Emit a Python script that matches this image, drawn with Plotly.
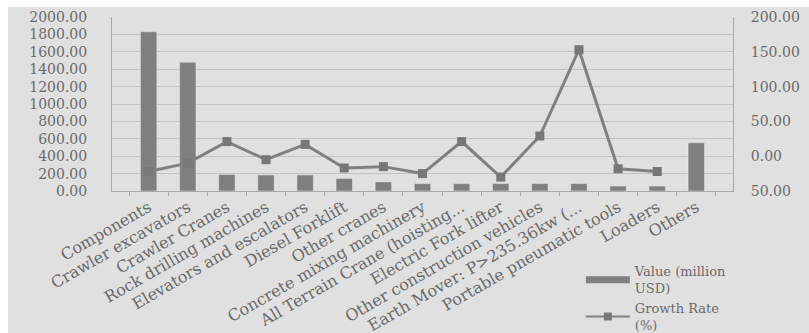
import plotly.graph_objects as go

categories = [
    "Components", "Crawler excavators", "Crawler Cranes", "Rock drilling machines",
    "Elevators and escalators", "Diesel Forklift", "Other cranes",
    "Concrete mixing machinery", "All Terrain Crane (hoisting...",
    "Electric Fork lifter", "Other construction vehicles",
    "Earth Mover: P>235.36kw (...", "Portable pneumatic tools", "Loaders", "Others",
]
value_musd = [1830, 1480, 190, 185, 185, 145, 105, 85, 85, 85, 85, 85, 57, 57, 555]
growth_pct = [-22, -10, 21, -5, 17, -17, -15, -25, 21, -30, 29, 153, -18, -22, None]

left_ticks = [0, 200, 400, 600, 800, 1000, 1200, 1400, 1600, 1800, 2000]
right_ticks = [-50, 0, 50, 100, 150, 200]
right_ticktext = ["50.00", "0.00", "50.00", "100.00", "150.00", "200.00"]

BG = "#e0e0e0"
BAR = "#7f7f7f"
LINE = "#808080"
TXT = "#6a6a6a"
GRID = "#c2c2c2"
FONT = "DejaVu Serif"

fig = go.Figure()
fig.add_trace(go.Bar(x=categories, y=value_musd, marker_color=BAR, width=0.42,
                     showlegend=False, yaxis="y"))
fig.add_trace(go.Scatter(x=categories, y=growth_pct, mode="lines+markers",
                         line=dict(color=LINE, width=3),
                         marker=dict(symbol="square", size=9, color="#777777"),
                         showlegend=False, yaxis="y2"))
# legend entries
fig.add_trace(go.Scatter(x=[None], y=[None], mode="lines", name="Value (million<br>USD)",
                         line=dict(color=BAR, width=7)))
fig.add_trace(go.Scatter(x=[None], y=[None], mode="lines+markers", name="Growth Rate<br>(%)",
                         line=dict(color=LINE, width=2),
                         marker=dict(symbol="square", size=8, color="#777777")))

# plot area: x 112..733 px, y 17..191 px
fig.update_layout(
    width=809, height=333,
    margin=dict(l=112, r=76, t=17, b=142, autoexpand=False),
    paper_bgcolor=BG, plot_bgcolor=BG,
    font=dict(family=FONT, color=TXT, size=14),
    xaxis=dict(
        tickangle=-30, tickfont=dict(size=16, family=FONT, color=TXT),
        showgrid=False, showline=True, linecolor="#a8a8a8", linewidth=1,
        ticks="outside", tickson="boundaries", ticklen=4, tickcolor="#a8a8a8",
        automargin=False,
    ),
    yaxis=dict(
        range=[0, 2000], tickvals=left_ticks, tickformat=".2f",
        showgrid=True, gridcolor=GRID, gridwidth=1,
        showline=True, linecolor="#a8a8a8", zeroline=False,
        ticklabelstandoff=21, tickfont=dict(size=14, family=FONT, color=TXT),
        automargin=False,
    ),
    yaxis2=dict(
        range=[-50, 200], tickvals=right_ticks, ticktext=right_ticktext,
        overlaying="y", side="right", showgrid=False,
        showline=True, linecolor="#a8a8a8", zeroline=False,
        ticklabelstandoff=14, tickfont=dict(size=14, family=FONT, color=TXT),
        automargin=False,
    ),
    legend=dict(
        x=0.755, y=-0.375, xanchor="left", yanchor="top",
        bgcolor="rgba(0,0,0,0)", font=dict(size=13, family=FONT, color=TXT),
        tracegroupgap=0, itemwidth=44,
    ),
    shapes=[
        dict(type="rect", xref="paper", yref="paper",
             x0=-0.19, x1=-0.1675, y0=-0.9, y1=1.11,
             fillcolor="white", line=dict(width=0), layer="below"),
        dict(type="rect", xref="paper", yref="paper",
             x0=-0.19, x1=1.13, y0=1.0575, y1=1.11,
             fillcolor="white", line=dict(width=0), layer="below"),
    ],
)

fig.write_html("out.html")
